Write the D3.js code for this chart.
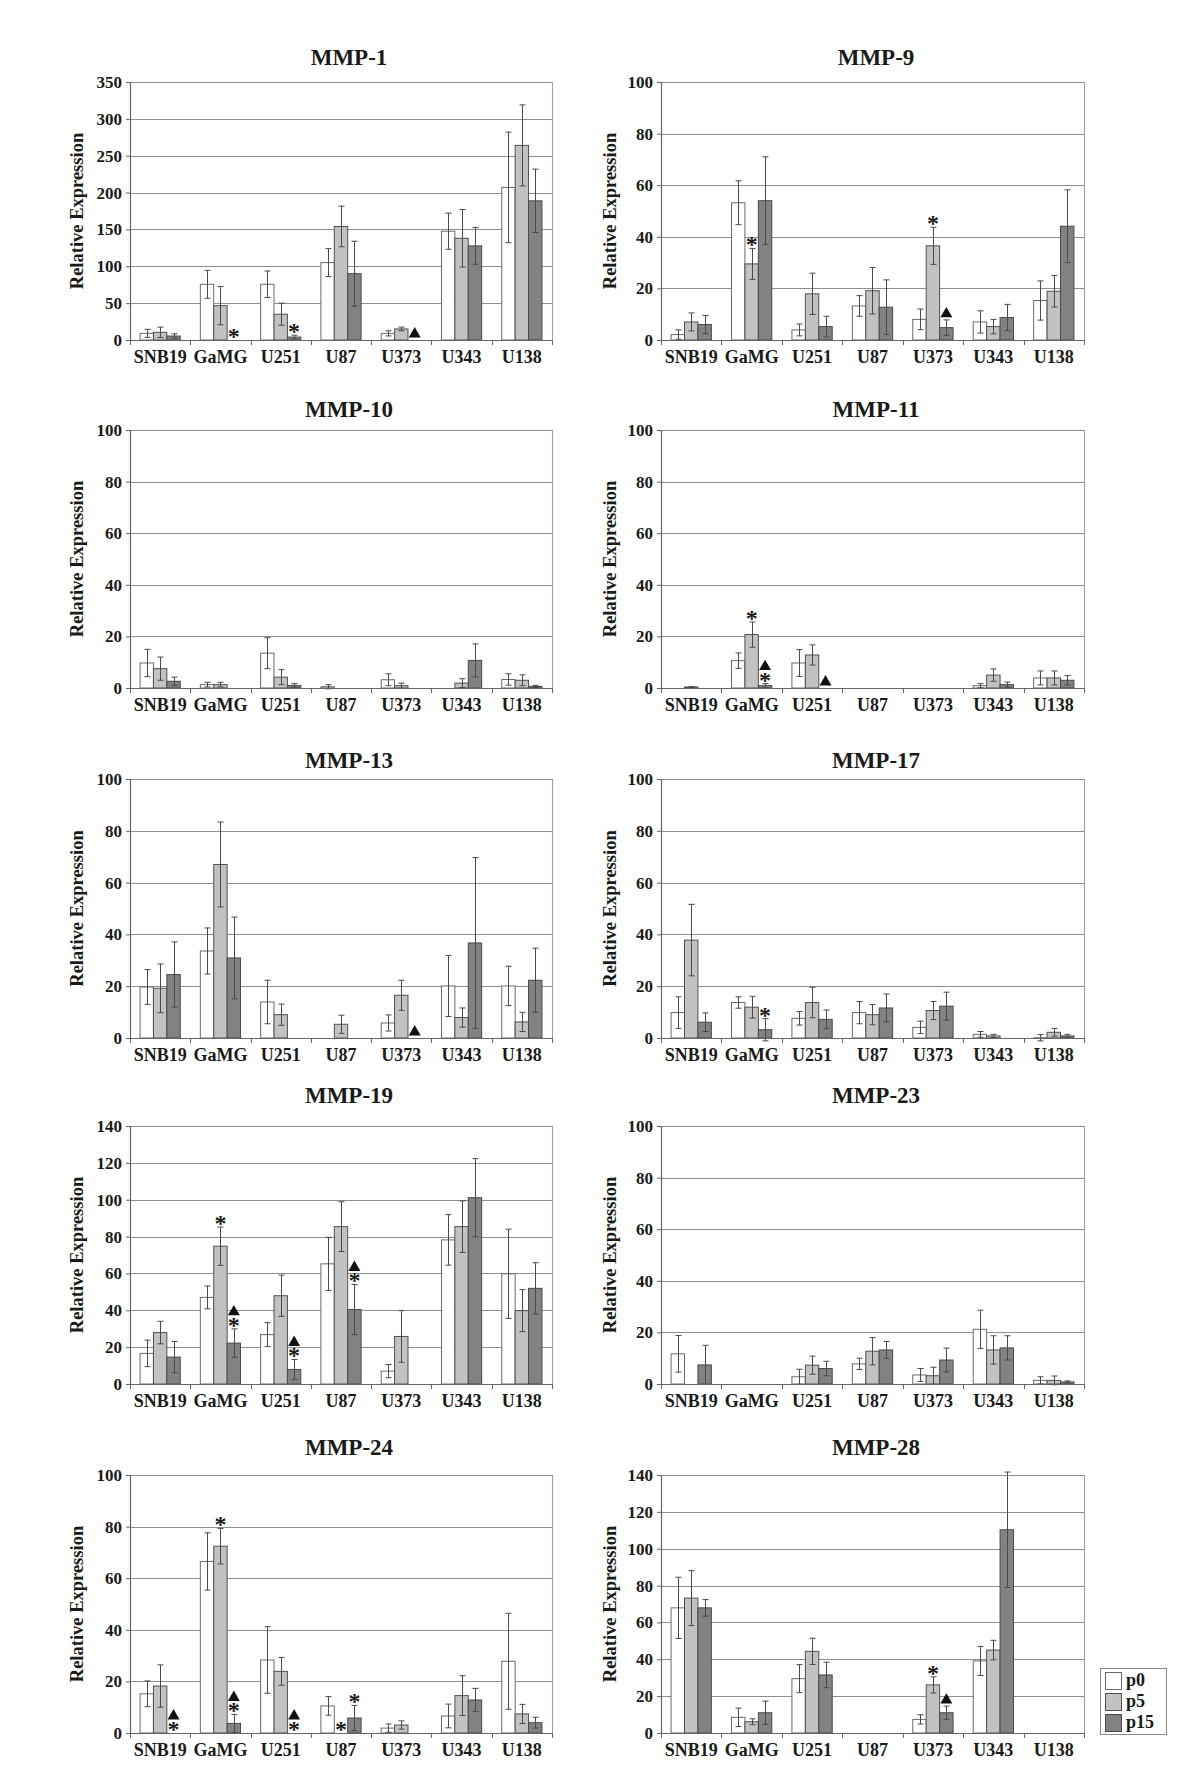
<!DOCTYPE html>
<html><head><meta charset="utf-8">
<script src="https://cdn.jsdelivr.net/npm/d3@7"></script>
<style>
body{margin:0;background:#fff}
svg{display:block}
text{font-family:"Liberation Serif","Times New Roman",serif;font-weight:bold;fill:#1a1a1a}
</style>
</head><body>
<svg id="chart" width="1200" height="1790"></svg>
<script>
// ---------- DATA ----------
const cellLines = ["SNB19","GaMG","U251","U87","U373","U343","U138"];
const seriesNames = ["p0","p5","p15"];
const panelTitles = ["MMP-1","MMP-9","MMP-10","MMP-11","MMP-13","MMP-17","MMP-19","MMP-23","MMP-24","MMP-28"];
const yMaxes = [350,100,100,100,100,100,140,100,100,140];
const yTickSteps = [50,20,20,20,20,20,20,20,20,20];

// rows: p0, p5, p15 ; columns follow cellLines
const mmp1Mean = [[9,75.6,75.6,105,9,147.6,207],[10.4,46.6,35,154,15,138,264],[5.4,0,4,90,0,127.7,188.8]];
const mmp1Err  = [[5.5,19,18,19,3.5,24.5,75],[7,26,15,27.5,2.5,39,55],[3,0,2.5,44,0,25,43]];
const mmp1Marks = [["GaMG","p15","*"],["U251","p15","*"],["U373","p15","▲"]];

const mmp9Mean = [[2.1,53.2,3.9,13.2,8,7,15.3],[7,29.5,17.9,19.1,36.5,5.2,18.9],[6,54,5.2,12.7,4.8,8.7,44.1]];
const mmp9Err  = [[1.8,8.5,2.3,4,4,4.3,7.6],[3.5,6,8,9,7.2,2.8,6.1],[3.5,17,4,10.6,3,5.1,14.1]];
const mmp9Marks = [["GaMG","p5","*"],["U373","p5","*"],["U373","p15","▲"]];

const mmp10Mean = [[9.7,1.3,13.5,0.5,3.2,0,3.3],[7.5,1.3,4.2,0,0.9,1.9,3],[2.6,0,1,0,0,10.7,0.6]];
const mmp10Err  = [[5.3,0.9,6,0.8,2.3,0,2.2],[4.5,0.9,2.9,0,1,1.7,2.1],[1.6,0,0.7,0,0,6.4,0.4]];
const mmp10Marks = [];

const mmp11Mean = [[0,10.6,9.7,0,0,0.9,3.9],[0.4,20.7,12.8,0,0,5,3.9],[0,0.9,0,0,0,1.3,3]];
const mmp11Err  = [[0,3,5.2,0,0,0.8,2.7],[0.2,4.9,3.9,0,0,2.4,2.7],[0,0.8,0,0,0,1,1.8]];
const mmp11Marks = [["GaMG","p5","*"],["GaMG","p15","▲*"],["U251","p15","▲"]];

const mmp13Mean = [[19.7,33.6,13.9,0,5.8,20.1,20.1],[19.2,67,9,5.3,16.5,7.9,6.2],[24.5,30.9,0,0,0,36.7,22.3]];
const mmp13Err  = [[6.7,8.9,8.4,0,3.1,11.8,7.6],[9.4,16.4,4.1,3.5,5.8,3.7,3.7],[12.6,15.8,0,0,0,33,12.4]];
const mmp13Marks = [["U373","p15","▲"]];

const mmp17Mean = [[9.8,13.7,7.6,9.8,4.1,1.4,0.1],[37.8,11.9,13.7,9,10.6,0.8,2.2],[6.1,3.2,7.2,11.6,12.3,0,0.8]];
const mmp17Err  = [[6.1,2.2,2.6,4.3,2.4,1.1,1.2],[13.8,4.2,5.9,3.9,3.5,0.6,1.5],[3.6,4.3,3.6,5.4,5.4,0,0.6]];
const mmp17Marks = [["GaMG","p15","*"]];

const mmp19Mean = [[16.6,47,26.8,65.2,7,78.2,59.8],[27.9,74.8,47.9,85.4,25.8,85.4,39.8],[14.6,22.2,7.9,40.4,0,101.1,51.9]];
const mmp19Err  = [[7.2,6.2,6.5,14.4,3.6,13.7,24.2],[6.1,10.4,11.2,13.5,14,14,11.4],[8.5,7.7,5.4,13.6,0,21.2,13.9]];
const mmp19Marks = [["GaMG","p5","*"],["GaMG","p15","▲*"],["U251","p15","▲*"],["U87","p15","▲*"]];

const mmp23Mean = [[11.7,0,2.8,7.8,3.5,21.2,1.4],[0,0,7.3,12.7,3.2,13.2,1.4],[7.4,0,6,13.2,9.3,14,0.8]];
const mmp23Err  = [[7.1,0,2.9,2.2,2.5,7.4,1.4],[0,0,3.5,5.3,3.3,5.5,1.7],[7.6,0,2.8,3.3,4.6,4.7,0.4]];
const mmp23Marks = [];

const mmp24Mean = [[15.2,66.5,28.3,10.5,1.9,6.6,27.8],[18.2,72.4,23.9,0,3.1,14.5,7.4],[0,3.7,0,5.8,0,12.8,4]];
const mmp24Err  = [[5,11.1,12.9,3.6,1.6,4.6,18.6],[8.2,6.9,5.4,0,1.6,7.7,3.7],[0,3.5,0,4.9,0,4.5,2.1]];
const mmp24Marks = [["SNB19","p15","▲*"],["GaMG","p5","*"],["GaMG","p15","▲*"],["U251","p15","▲*"],["U87","p5","*"],["U87","p15","*"]];

const mmp28Mean = [[67.9,8.5,29.5,0,7.4,39.1,0],[73.2,6.1,44.3,0,26.1,45,0],[67.9,11,31.5,0,11,110.3,0]];
const mmp28Err  = [[16.6,5,7.6,0,2.5,7.9,0],[14.9,1.6,7.1,0,4.4,5.3,0],[4.5,6.3,6.9,0,3.6,31.3,0]];
const mmp28Marks = [["U373","p5","*"],["U373","p15","▲"]];

const allMeans = [mmp1Mean,mmp9Mean,mmp10Mean,mmp11Mean,mmp13Mean,mmp17Mean,mmp19Mean,mmp23Mean,mmp24Mean,mmp28Mean];
const allErrs  = [mmp1Err,mmp9Err,mmp10Err,mmp11Err,mmp13Err,mmp17Err,mmp19Err,mmp23Err,mmp24Err,mmp28Err];
const allMarks = [mmp1Marks,mmp9Marks,mmp10Marks,mmp11Marks,mmp13Marks,mmp17Marks,mmp19Marks,mmp23Marks,mmp24Marks,mmp28Marks];

// ---------- LAYOUT / STYLE ----------
const colX = [[130,552],[661,1084]];
const rowY = [[82,340],[430,688],[779,1038],[1126,1384],[1475,1733]];
const titleBase = [65,417,768,1103,1455];
const titleCX = [349,876];
const yTitleX = [83,616];
const fills = {p0:"#ffffff", p5:"#c2c2c2", p15:"#828282"};
const strokes = {p0:"#6a6a6a", p5:"#505050", p15:"#4a4a4a"};
const FONT = "'Liberation Serif','Times New Roman',serif";

const svg = d3.select("#chart");

panelTitles.forEach((title, i) => {
  const col = i % 2, row = Math.floor(i / 2);
  const [x0, x1] = colX[col];
  const [yTop, yZero] = rowY[row];
  const g = svg.append("g");

  const x = d3.scaleBand().domain(cellLines).range([x0, x1]);
  const bw = x.bandwidth();
  const xs = d3.scaleBand().domain(seriesNames).range([bw / 6, bw * 5 / 6]);
  const y = d3.scaleLinear().domain([0, yMaxes[i]]).range([yZero, yTop]);
  const ticks = d3.range(0, yMaxes[i] + 0.001, yTickSteps[i]);

  // gridlines
  g.append("g").selectAll("line").data(ticks.filter(t => t > 0)).join("line")
    .attr("x1", x0).attr("x2", x1)
    .attr("y1", d => Math.round(y(d)) + 0.5).attr("y2", d => Math.round(y(d)) + 0.5)
    .attr("stroke", "#8e8e8e").attr("stroke-width", 1.1);
  // right border
  g.append("line").attr("x1", x1 + 0.5).attr("x2", x1 + 0.5).attr("y1", y(yMaxes[i])).attr("y2", yZero)
    .attr("stroke", "#a0a0a0").attr("stroke-width", 1.1);

  // bars
  const rows = [];
  seriesNames.forEach((s, si) => cellLines.forEach((c, ci) => {
    rows.push({c, s, v: allMeans[i][si][ci], e: allErrs[i][si][ci]});
  }));
  g.append("g").selectAll("rect").data(rows.filter(d => d.v > 0)).join("rect")
    .attr("x", d => x(d.c) + xs(d.s))
    .attr("width", xs.bandwidth())
    .attr("y", d => y(d.v))
    .attr("height", d => yZero - y(d.v))
    .attr("fill", d => fills[d.s])
    .attr("stroke", d => strokes[d.s]).attr("stroke-width", 1);

  // error bars
  const eb = g.append("g").attr("stroke", "#4a4a4a").attr("stroke-width", 1).attr("fill", "none");
  rows.filter(d => d.e > 0).forEach(d => {
    const cx = Math.round(x(d.c) + xs(d.s) + xs.bandwidth() / 2) + 0.5;
    const yt = y(d.v + d.e), yb = y(d.v - d.e);
    eb.append("line").attr("x1", cx).attr("x2", cx).attr("y1", yt).attr("y2", yb);
    eb.append("line").attr("x1", cx - 3).attr("x2", cx + 3).attr("y1", yt).attr("y2", yt);
    eb.append("line").attr("x1", cx - 3).attr("x2", cx + 3).attr("y1", yb).attr("y2", yb);
  });

  // y axis
  const ya = g.append("g").attr("transform", `translate(${x0},0)`)
    .call(d3.axisLeft(y).tickValues(ticks).tickSize(4).tickPadding(4).tickFormat(d3.format("d")));
  ya.select(".domain").attr("stroke", "#666").attr("stroke-width", 1.2);
  ya.selectAll(".tick line").attr("stroke", "#666");
  ya.selectAll(".tick text").style("font-size", "17px").attr("fill", "#1a1a1a")
    .style("font-family", FONT).style("font-weight", "bold");

  // x axis
  const xa = g.append("g").attr("transform", `translate(0,${yZero})`)
    .call(d3.axisBottom(x).tickSize(0).tickPadding(0));
  xa.select(".domain").attr("stroke", "#666").attr("stroke-width", 1.2);
  xa.selectAll(".tick text").style("font-size", "18px").attr("fill", "#1a1a1a")
    .attr("dy", null).attr("y", 22.5)
    .style("font-family", FONT).style("font-weight", "bold");
  // category separator ticks
  const bounds = cellLines.map(c => x(c)).concat([x1]);
  g.append("g").selectAll("line").data(bounds).join("line")
    .attr("x1", d => Math.round(d) + 0.5).attr("x2", d => Math.round(d) + 0.5)
    .attr("y1", yZero).attr("y2", yZero + 5)
    .attr("stroke", "#666").attr("stroke-width", 1);

  // significance markers
  allMarks[i].forEach(([c, s, sym]) => {
    const si = seriesNames.indexOf(s), ci = cellLines.indexOf(c);
    const v = allMeans[i][si][ci], e = allErrs[i][si][ci];
    const cx = x(c) + xs(s) + xs.bandwidth() / 2;
    const base = y(v + e);
    let cy = base - 7; // visual centre of lowest symbol
    const symbols = sym.split("").reverse(); // bottom first
    symbols.forEach(ch => {
      if (ch === "*") {
        g.append("text").attr("x", cx).attr("y", cy + 11)
          .attr("text-anchor", "middle").style("font-size", "24px").attr("fill", "#111").text("*");
      } else {
        g.append("path").attr("d", d3.symbol().type(d3.symbolTriangle).size(62)())
          .attr("transform", `translate(${cx},${cy + 1})`).attr("fill", "#111");
      }
      cy -= 11;
    });
  });

  // title
  g.append("text").attr("x", titleCX[col]).attr("y", titleBase[row])
    .attr("text-anchor", "middle").style("font-size", "23px").text(title);
  // y title
  g.append("text").attr("transform", `translate(${yTitleX[col]},${(yTop + yZero) / 2}) rotate(-90)`)
    .attr("text-anchor", "middle").style("font-size", "18.5px").text("Relative Expression");
});

// legend
const lg = svg.append("g");
lg.append("rect").attr("x", 1100.5).attr("y", 1668.5).attr("width", 66).attr("height", 66)
  .attr("fill", "#fff").attr("stroke", "#8a8a8a").attr("stroke-width", 1);
seriesNames.forEach((s, k) => {
  const yy = 1672 + k * 21;
  lg.append("rect").attr("x", 1105.5).attr("y", yy + 0.5).attr("width", 16).attr("height", 17)
    .attr("fill", fills[s]).attr("stroke", strokes[s]);
  lg.append("text").attr("x", 1126).attr("y", yy + 14).style("font-size", "18px").text(s);
});
</script>
</body></html>
